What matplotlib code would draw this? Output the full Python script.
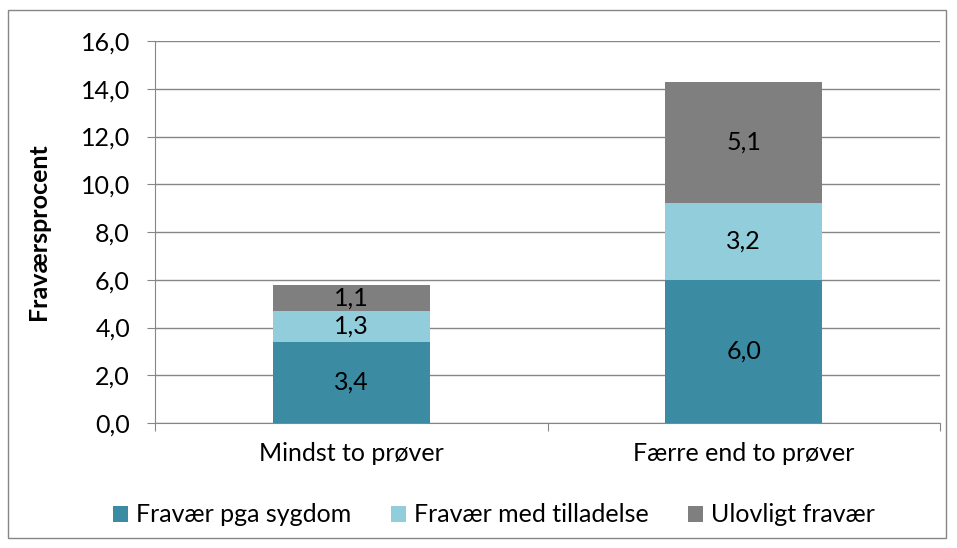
import matplotlib
matplotlib.use("Agg")
import matplotlib.pyplot as plt
from matplotlib.patches import Rectangle

plt.rcParams['font.family'] = ['Lato', 'DejaVu Sans']

categories = ["Mindst to prøver", "Færre end to prøver"]
series_names = ["Fravær pga sygdom", "Fravær med tilladelse", "Ulovligt fravær"]
sygdom = [3.4, 6.0]
tilladelse = [1.3, 3.2]
ulovligt = [1.1, 5.1]
yticks = [0, 2, 4, 6, 8, 10, 12, 14, 16]
colors = ["#3B8BA3", "#92CDDC", "#7F7F7F"]

FS = 18
W, H = 957, 548
fig = plt.figure(figsize=(W/100, H/100), dpi=100)
ax = fig.add_axes([155/W, 1-423/H, (940-155)/W, (423-41)/H])

x = [0, 1]
bottom = [0, 0]
for vals, col, name in zip([sygdom, tilladelse, ulovligt], colors, series_names):
    ax.bar(x, vals, width=0.4, bottom=bottom, color=col, label=name, zorder=3)
    for xi, b, v in zip(x, bottom, vals):
        ax.text(xi, b + v/2, f"{v:.1f}".replace(".", ","), ha="center", va="center",
                fontsize=FS, color="black", zorder=4)
    bottom = [b + v for b, v in zip(bottom, vals)]

ax.set_xlim(-0.5, 1.5)
ax.set_ylim(0, 16)
ax.set_yticks(yticks)
ax.set_yticklabels([f"{t:.1f}".replace(".", ",") for t in yticks], fontsize=FS)
ax.set_xticks([-0.5, 0.5, 1.5], minor=False)
ax.set_xticklabels(["", "", ""])
ax.set_xticks(x, minor=True)
ax.set_xticklabels(categories, minor=True, fontsize=FS)
ax.tick_params(axis="x", which="minor", length=0, pad=14)
ax.tick_params(axis="x", which="major", length=6, color="#868686", direction="out")
ax.tick_params(axis="y", length=6, color="#868686", direction="out", pad=12)
ax.grid(axis="y", color="#868686", linewidth=1, zorder=0)
for s in ["top", "right"]:
    ax.spines[s].set_visible(False)
ax.spines["left"].set_color("#868686")
ax.spines["bottom"].set_color("#868686")
ax.set_ylabel("Fraværsprocent", fontsize=FS, fontweight="bold", labelpad=22)

fig.legend(loc="center", bbox_to_anchor=(494/W, 1-515/H), ncol=3, frameon=False,
           fontsize=FS, handlelength=0.6, handleheight=0.6, handletextpad=0.3,
           columnspacing=1.6)

fig.patches.append(Rectangle((8/W, 1-538/H), (946-8)/W, (538-10)/H, transform=fig.transFigure,
                             fill=False, edgecolor="#868686", linewidth=1))

fig.savefig("out.png", dpi=100)
